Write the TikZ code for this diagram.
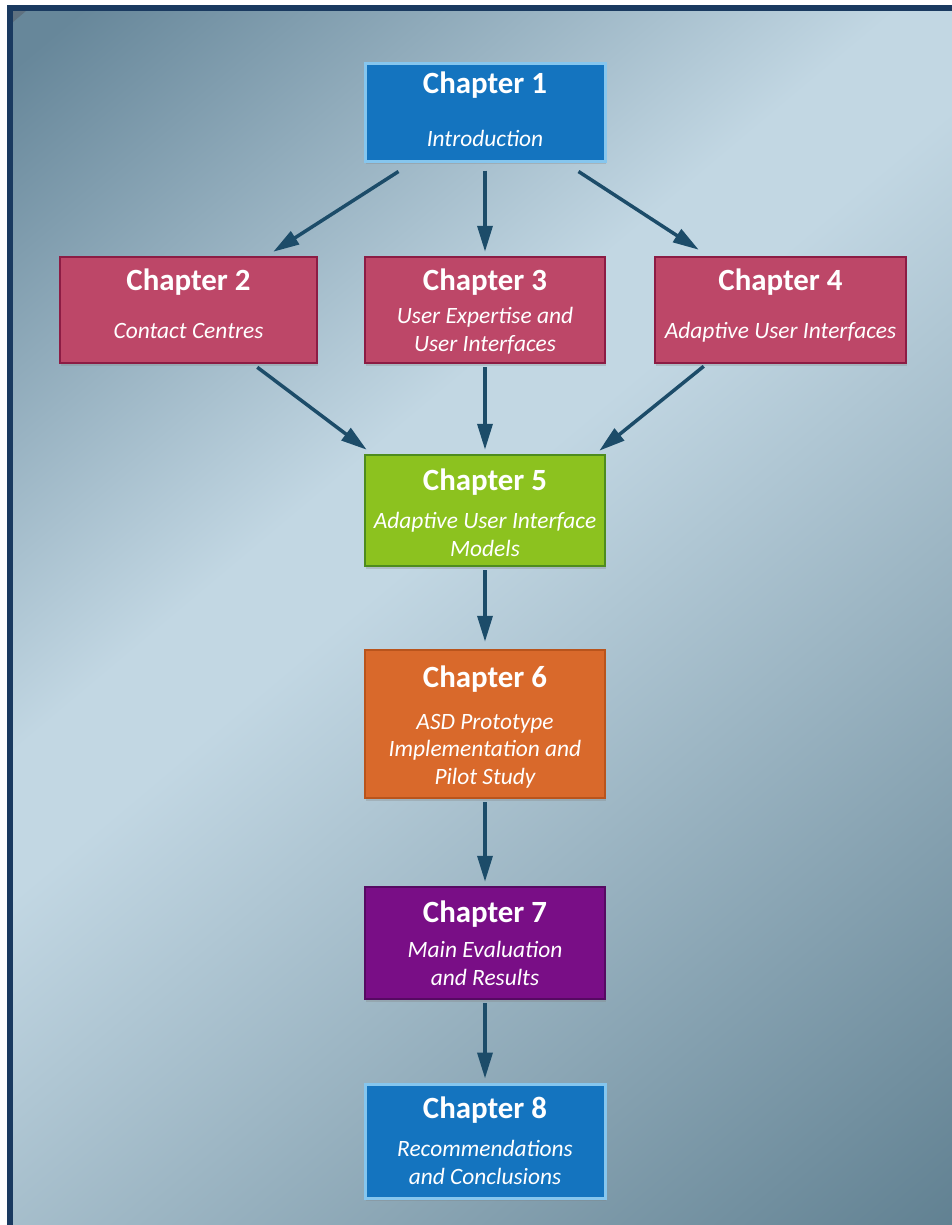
\documentclass[tikz,border=0pt]{standalone}
\usepackage{fontspec}
\setmainfont{Carlito}
\usetikzlibrary{arrows.meta,shadows}

\definecolor{framenavy}{HTML}{1A3A60}
\definecolor{cornergray}{HTML}{5F7180}
\definecolor{bgdarkA}{HTML}{67879A}
\definecolor{bglight}{HTML}{C2D7E3}
\definecolor{bgdarkB}{HTML}{5F7F90}
\definecolor{blueA}{HTML}{1474BF}
\definecolor{blueB}{HTML}{86C6EE}
\definecolor{roseA}{HTML}{BD4768}
\definecolor{roseB}{HTML}{8C1C44}
\definecolor{greenA}{HTML}{8CC21F}
\definecolor{greenB}{HTML}{4E8C1E}
\definecolor{orangeA}{HTML}{D9692B}
\definecolor{orangeB}{HTML}{B9541C}
\definecolor{purpleA}{HTML}{790E86}
\definecolor{purpleB}{HTML}{560A62}
\definecolor{arrowc}{HTML}{1C4C69}

\tikzset{
  chbox/.style={rectangle, line width=2.5bp, inner sep=0pt,
    drop shadow={shadow xshift=1bp, shadow yshift=-3bp, opacity=.3}},
  midcol/.style={minimum width=240bp},
  chtitle/.style={text=white, anchor=base, inner sep=0pt,
    font=\fontsize{31}{37}\selectfont\bfseries},
  chsub/.style={text=white, anchor=base, inner sep=0pt, align=center,
    font=\fontsize{23.5}{27.5}\selectfont\itshape},
  arr/.style={draw=arrowc, line width=3.5bp,
    -{Triangle[length=26bp,width=15bp]}}
}

\begin{document}
\begin{tikzpicture}[x=1bp,y=-1bp]
\useasboundingbox (0,0) rectangle (952,1225);
\fill[white] (0,0) rectangle (952,1225);

% navy frame along the top and left edges
\fill[framenavy] (7,5) rectangle (952,1225);

% diagonal background: dark corners, light band across the middle
\begin{scope}
  \clip (13,11) rectangle (952,1225);
  \begin{scope}[transform canvas={rotate=-50}]
    \fill[bgdarkA] (-10,-2000) rectangle (70,2000);
    \fill[bglight] (575,-2000) rectangle (705,2000);
    \shade[left color=bgdarkA, right color=bglight] (60,-2000) rectangle (585,2000);
    \shade[left color=bglight, right color=bgdarkB] (695,-2000) rectangle (1570,2000);
  \end{scope}
\end{scope}
\fill[cornergray] (13,11) -- (26,11) -- (13,22) -- cycle;

% chapter boxes
\node[chbox, midcol, fill=blueA, draw=blueB, line width=3bp, minimum height=98bp] (c1) at (485,112) {};
\node[chbox, fill=roseA, draw=roseB, minimum width=257bp, minimum height=106bp] (c2) at (188.5,310) {};
\node[chbox, midcol, fill=roseA, draw=roseB, minimum height=106bp] (c3) at (485,310) {};
\node[chbox, fill=roseA, draw=roseB, minimum width=251bp, minimum height=106bp] (c4) at (780.5,310) {};
\node[chbox, midcol, fill=greenA, draw=greenB, minimum height=111bp] (c5) at (485,510.5) {};
\node[chbox, midcol, fill=orangeA, draw=orangeB, minimum height=148bp] (c6) at (485,724) {};
\node[chbox, midcol, fill=purpleA, draw=purpleB, minimum height=112bp] (c7) at (485,943) {};
\node[chbox, midcol, fill=blueA, draw=blueB, line width=3bp, minimum height=114bp] (c8) at (485,1141) {};

% box texts (a multi-line subtitle sits on the baseline of its last line)
\node[chtitle] (c1t) at (485,93) {Chapter 1};
\node[chsub]   (c1s) at (485,146) {Introduction};
\node[chtitle] (c2t) at (188.5,290) {Chapter 2};
\node[chsub]   (c2s) at (188.5,338) {Contact Centres};
\node[chtitle] (c3t) at (485,290) {Chapter 3};
\node[chsub]   (c3s) at (485,351) {User Expertise and\\User Interfaces};
\node[chtitle] (c4t) at (780.5,290) {Chapter 4};
\node[chsub]   (c4s) at (780.5,338) {Adaptive User Interfaces};
\node[chtitle] (c5t) at (485,490) {Chapter 5};
\node[chsub]   (c5s) at (485,556) {Adaptive User Interface\\Models};
\node[chtitle] (c6t) at (485,687) {Chapter 6};
\node[chsub]   (c6s) at (485,784) {ASD Prototype\\Implementation and\\Pilot Study};
\node[chtitle] (c7t) at (485,922) {Chapter 7};
\node[chsub]   (c7s) at (485,985) {Main Evaluation\\and Results};
\node[chtitle] (c8t) at (485,1118) {Chapter 8};
\node[chsub]   (c8s) at (485,1184) {Recommendations\\and Conclusions};

% connectors
\draw[arr] ([shift={(35,9)}]c1.south west) -- ([shift={(-45,-4)}]c2.north east);
\draw[arr] ([shift={(0,8)}]c1.south) -- ([shift={(0,-4)}]c3.north);
\draw[arr] ([shift={(-28,9)}]c1.south east) -- ([shift={(45,-6)}]c4.north west);
\draw[arr] ([shift={(-61,3)}]c2.south east) -- ([shift={(3,-4)}]c5.north west);
\draw[arr] ([shift={(0,3)}]c3.south) -- ([shift={(0,-4)}]c5.north);
\draw[arr] ([shift={(50,2)}]c4.south west) -- ([shift={(-7,-3)}]c5.north east);
\draw[arr] ([shift={(0,3)}]c5.south) -- ([shift={(0,-7)}]c6.north);
\draw[arr] ([shift={(0,3)}]c6.south) -- ([shift={(0,-4)}]c7.north);
\draw[arr] ([shift={(0,3)}]c7.south) -- ([shift={(0,-4)}]c8.north);
\end{tikzpicture}
\end{document}
